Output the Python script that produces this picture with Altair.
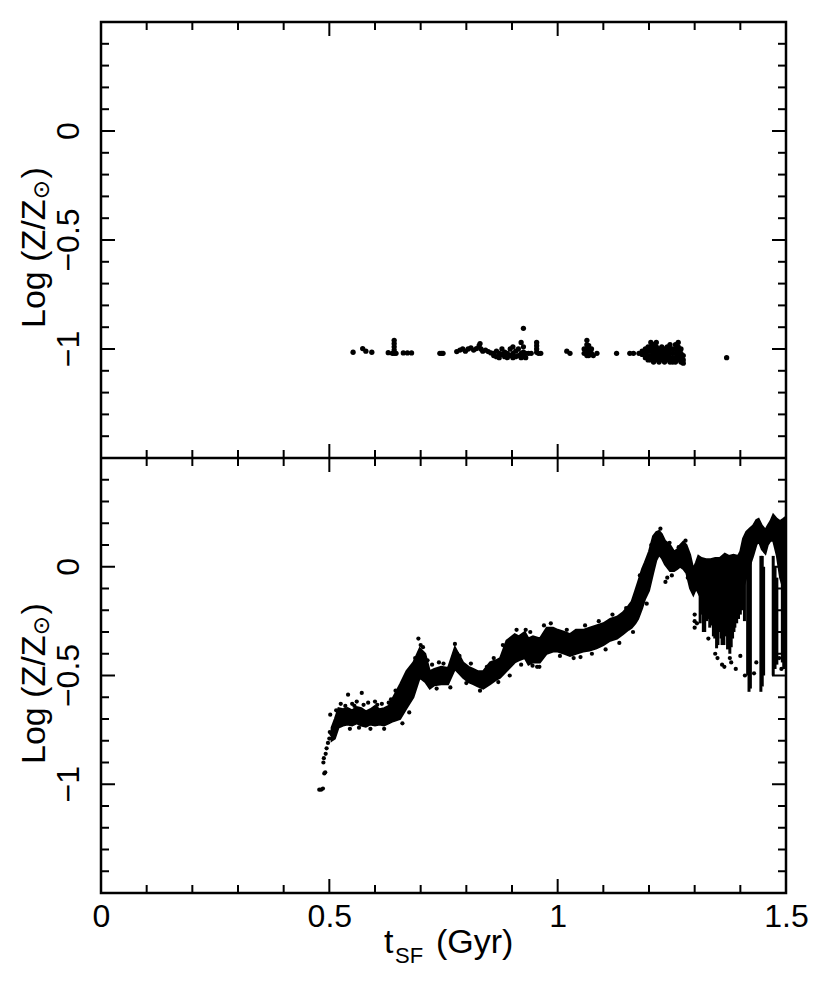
import altair as alt
import pandas as pd

FONT = "Liberation Sans"
W = 685
H_TOP, H_BOT = 436, 435
H = H_TOP + H_BOT
XDOM = [0.0, 1.5]
YDOM = [-1.5, 0.5]

# ---------------- data ----------------
# top panel: scattered star particles (t_SF [Gyr], log Z/Zsun)
top_points = [
    (0.552, -1.015), (0.573, -0.998), (0.580, -1.010), (0.593, -1.015), (0.629, -1.017),
    (0.638, -1.020), (0.642, -0.960), (0.642, -0.975), (0.642, -0.990), (0.642, -1.005),
    (0.642, -1.020), (0.646, -1.020), (0.662, -1.018), (0.671, -1.018), (0.680, -1.018),
    (0.742, -1.020), (0.746, -1.020), (0.749, -1.020),
    (0.779, -1.012), (0.786, -1.005), (0.792, -1.000), (0.798, -1.010), (0.804, -1.000),
    (0.810, -0.995), (0.816, -1.005), (0.822, -0.998), (0.828, -0.985), (0.830, -0.975),
    (0.832, -1.000), (0.836, -1.010), (0.842, -1.005), (0.848, -1.012), (0.854, -1.018),
    (0.860, -1.020), (0.860, -1.030), (0.866, -1.010), (0.866, -1.035), (0.872, -1.020),
    (0.872, -1.040), (0.878, -1.000), (0.878, -1.025), (0.884, -1.015), (0.884, -1.035),
    (0.890, -1.020), (0.890, -1.040), (0.896, -1.000), (0.896, -1.030), (0.902, -0.990),
    (0.902, -1.020), (0.902, -1.040), (0.908, -1.010), (0.908, -1.035), (0.914, -1.000),
    (0.914, -1.030), (0.920, -0.970), (0.920, -1.020), (0.920, -1.040), (0.925, -0.905),
    (0.925, -0.990), (0.925, -1.015), (0.925, -1.035), (0.930, -1.020), (0.930, -1.040),
    (0.936, -1.020), (0.942, -1.020),
    (0.954, -0.970), (0.954, -0.985), (0.954, -1.000), (0.954, -1.015), (0.958, -1.020),
    (0.963, -1.020), (1.020, -1.010), (1.027, -1.020),
    (1.058, -1.000), (1.058, -1.020), (1.064, -0.960), (1.064, -0.980), (1.064, -1.000),
    (1.064, -1.020), (1.064, -1.030), (1.068, -0.985), (1.068, -1.010), (1.068, -1.030),
    (1.074, -1.000), (1.074, -1.020), (1.078, -1.030), (1.086, -1.020),
    (1.129, -1.020), (1.158, -1.020), (1.166, -1.020), (1.178, -1.020), (1.185, -1.010),
    (1.185, -1.025),
    (1.192, -1.00), (1.192, -1.02), (1.192, -1.04),
    (1.198, -0.99), (1.198, -1.01), (1.198, -1.03), (1.198, -1.05),
    (1.204, -0.97), (1.204, -0.99), (1.204, -1.01), (1.204, -1.03), (1.204, -1.05),
    (1.210, -0.98), (1.210, -1.00), (1.210, -1.02), (1.210, -1.04), (1.210, -1.06),
    (1.216, -0.97), (1.216, -0.99), (1.216, -1.01), (1.216, -1.03), (1.216, -1.05),
    (1.222, -1.00), (1.222, -1.02), (1.222, -1.04), (1.222, -1.06),
    (1.228, -0.99), (1.228, -1.01), (1.228, -1.03), (1.228, -1.05),
    (1.234, -1.00), (1.234, -1.02), (1.234, -1.04), (1.234, -1.06),
    (1.240, -0.99), (1.240, -1.01), (1.240, -1.03), (1.240, -1.05),
    (1.246, -0.98), (1.246, -1.00), (1.246, -1.02), (1.246, -1.04), (1.246, -1.06),
    (1.252, -1.00), (1.252, -1.02), (1.252, -1.04), (1.252, -1.06),
    (1.258, -0.98), (1.258, -1.00), (1.258, -1.02), (1.258, -1.04), (1.258, -1.06),
    (1.264, -0.97), (1.264, -0.99), (1.264, -1.01), (1.264, -1.03), (1.264, -1.05),
    (1.270, -1.00), (1.270, -1.02), (1.270, -1.04), (1.270, -1.06),
    (1.275, -1.03), (1.275, -1.05), (1.275, -1.065),
    (1.370, -1.040),
]

# bottom panel: dense band of particles (lower / upper edge)
band_t = [0.505, 0.512, 0.520, 0.530, 0.540, 0.550, 0.560, 0.570, 0.580, 0.590, 0.600,
          0.610, 0.620, 0.630, 0.640, 0.655, 0.669, 0.684, 0.698, 0.710, 0.720, 0.730,
          0.745, 0.760, 0.775, 0.793, 0.805, 0.815, 0.825, 0.837, 0.852, 0.865, 0.874,
          0.888, 0.906, 0.915, 0.928, 0.936, 0.946, 0.961, 0.976, 0.990, 1.000, 1.015,
          1.027, 1.040, 1.056, 1.070, 1.085, 1.100, 1.115, 1.130, 1.143, 1.155, 1.162,
          1.170, 1.176, 1.185, 1.191, 1.200, 1.209, 1.216, 1.222, 1.228, 1.235, 1.246,
          1.255, 1.262, 1.268, 1.275, 1.282, 1.290, 1.297, 1.303, 1.308, 1.315, 1.325,
          1.335, 1.345, 1.355, 1.366, 1.375, 1.385, 1.395, 1.400, 1.406, 1.413, 1.420,
          1.428, 1.435, 1.440, 1.447, 1.455, 1.460, 1.466, 1.472, 1.480, 1.487, 1.494,
          1.500]
band_lo = [-0.80, -0.79, -0.74, -0.73, -0.725, -0.73, -0.72, -0.73, -0.735, -0.725, -0.73,
           -0.725, -0.73, -0.72, -0.71, -0.70, -0.65, -0.60, -0.51, -0.53, -0.56, -0.545,
           -0.54, -0.54, -0.47, -0.51, -0.53, -0.54, -0.55, -0.56, -0.54, -0.52, -0.51,
           -0.48, -0.44, -0.43, -0.42, -0.45, -0.44, -0.44, -0.40, -0.39, -0.39, -0.40,
           -0.41, -0.40, -0.39, -0.385, -0.375, -0.36, -0.34, -0.33, -0.31, -0.29, -0.28,
           -0.26, -0.24, -0.19, -0.15, -0.11, -0.03, 0.03, 0.055, 0.04, 0.01, -0.02,
           -0.02, -0.01, 0.00, -0.01, -0.03, -0.10, -0.13, -0.10, -0.12, -0.15, -0.17,
           -0.16, -0.18, -0.19, -0.17, -0.19, -0.16, -0.15, -0.13, -0.10, -0.05, 0.00,
           0.05, 0.10, 0.12, 0.08, 0.06, 0.10, 0.12, 0.12, 0.05, -0.05, -0.10,
           -0.12]
band_hi = [-0.74, -0.70, -0.65, -0.655, -0.65, -0.66, -0.645, -0.65, -0.665, -0.655, -0.64,
           -0.655, -0.65, -0.64, -0.60, -0.54, -0.48, -0.44, -0.375, -0.40, -0.48, -0.47,
           -0.46, -0.465, -0.37, -0.44, -0.46, -0.47, -0.48, -0.48, -0.44, -0.43, -0.42,
           -0.34, -0.31, -0.32, -0.30, -0.33, -0.32, -0.33, -0.28, -0.28, -0.29, -0.30,
           -0.31, -0.29, -0.29, -0.28, -0.27, -0.26, -0.24, -0.23, -0.21, -0.18, -0.16,
           -0.11, -0.07, -0.01, 0.02, 0.07, 0.14, 0.16, 0.165, 0.15, 0.12, 0.10,
           0.07, 0.08, 0.10, 0.115, 0.10, 0.055, -0.01, 0.02, 0.05, 0.04, 0.035,
           0.035, 0.04, 0.04, 0.06, 0.05, 0.055, 0.05, 0.07, 0.13, 0.16, 0.175,
           0.19, 0.215, 0.22, 0.19, 0.17, 0.19, 0.21, 0.24, 0.22, 0.21, 0.22,
           0.23]

# bottom panel: downward streaks at late times
spike_t = [1.312, 1.316, 1.319, 1.322, 1.326, 1.329, 1.333, 1.336, 1.341, 1.344, 1.348,
           1.351, 1.355, 1.358, 1.360, 1.364, 1.369, 1.372, 1.377, 1.380, 1.383, 1.386,
           1.388, 1.392, 1.396, 1.400, 1.404, 1.409, 1.416, 1.419, 1.422, 1.445, 1.448,
           1.451, 1.472, 1.476, 1.480, 1.492, 1.495, 1.498]
spike_top = [-0.10, -0.10, -0.10, -0.12, -0.12, -0.10, -0.10, -0.12, -0.12, -0.10, -0.10,
             -0.12, -0.12, -0.10, -0.10, -0.12, -0.12, -0.10, -0.10, -0.10, -0.10, -0.10,
             -0.10, -0.10, -0.08, -0.05, -0.05, -0.02, 0.05, 0.08, 0.10, 0.05, 0.05,
             0.00, 0.05, 0.00, -0.05, -0.05, -0.05, -0.05]
spike_bot = [-0.26, -0.22, -0.30, -0.30, -0.25, -0.24, -0.28, -0.27, -0.32, -0.33, -0.375,
             -0.36, -0.30, -0.33, -0.36, -0.36, -0.32, -0.38, -0.40, -0.37, -0.33, -0.30,
             -0.28, -0.26, -0.24, -0.22, -0.20, -0.25, -0.50, -0.575, -0.56, -0.575, -0.55,
             -0.50, -0.50, -0.47, -0.45, -0.44, -0.47, -0.40]

# bottom panel: isolated particles
bottom_points = [
    (0.478, -1.025), (0.482, -1.025), (0.486, -1.020), (0.489, -0.950), (0.491, -0.945),
    (0.487, -0.900), (0.488, -0.880), (0.492, -0.860), (0.494, -0.835), (0.497, -0.810),
    (0.500, -0.790), (0.501, -0.760), (0.502, -0.680), (0.505, -0.770), (0.508, -0.750),
    (0.541, -0.588), (0.571, -0.580), (0.550, -0.630), (0.560, -0.620), (0.585, -0.625),
    (0.600, -0.620), (0.615, -0.630), (0.630, -0.625), (0.695, -0.330), (0.700, -0.360),
    (0.740, -0.440), (0.775, -0.355), (0.780, -0.400), (0.930, -0.290), (0.970, -0.270),
    (0.945, -0.455), (0.960, -0.460), (1.050, -0.415), (1.236, -0.070), (1.240, -0.050),
    (1.300, -0.220), (1.300, -0.250), (1.300, -0.280), (1.305, -0.260), (1.330, -0.330),
    (1.345, -0.400), (1.350, -0.420), (1.360, -0.450), (1.365, -0.460), (1.377, -0.420),
    (1.380, -0.440), (1.390, -0.470), (1.400, -0.410), (1.410, -0.500), (1.430, -0.490),
    (1.435, -0.440), (1.485, -0.420), (1.490, -0.470),
    (0.515, -0.660), (0.525, -0.630), (0.535, -0.640), (0.545, -0.745), (0.555, -0.640),
    (0.565, -0.740), (0.575, -0.635), (0.590, -0.745), (0.605, -0.635), (0.620, -0.745),
    (0.635, -0.610), (0.645, -0.570), (0.660, -0.720), (0.675, -0.670), (0.688, -0.420),
    (0.705, -0.370), (0.715, -0.430), (0.725, -0.450), (0.735, -0.560), (0.750, -0.445),
    (0.765, -0.555), (0.785, -0.410), (0.800, -0.535), (0.810, -0.445), (0.830, -0.570),
    (0.845, -0.460), (0.860, -0.420), (0.870, -0.530), (0.880, -0.360), (0.895, -0.500),
    (0.910, -0.290), (0.920, -0.450), (0.940, -0.300), (0.955, -0.460), (0.985, -0.260),
    (1.005, -0.410), (1.020, -0.290), (1.035, -0.420), (1.060, -0.270), (1.075, -0.400),
    (1.090, -0.250), (1.105, -0.380), (1.120, -0.220), (1.135, -0.350), (1.150, -0.190),
    (1.165, -0.300), (1.180, -0.040), (1.195, -0.170), (1.205, 0.100), (1.225, 0.175),
    (1.245, 0.110), (1.250, -0.040), (1.265, 0.090), (1.280, 0.120), (1.285, -0.050),
]

x_major = [0.5, 1.0]
x_minor = [0.1, 0.2, 0.3, 0.4, 0.6, 0.7, 0.8, 0.9, 1.1, 1.2, 1.3, 1.4]
y_major = [-1.0, -0.5, 0.0]
y_minor = [-1.4, -1.3, -1.2, -1.1, -0.9, -0.8, -0.7, -0.6, -0.4, -0.3, -0.2, -0.1,
           0.1, 0.2, 0.3, 0.4]
x_labels = [0.0, 0.5, 1.0, 1.5]
y_labels = [-1.0, -0.5, 0.0]
y_label_text = ["\u22121", "\u22120.5", "0"]

# ---------------- chart ----------------
xs = alt.Scale(domain=XDOM, nice=False, zero=False)
ys_top = alt.Scale(domain=YDOM, nice=False, zero=False, range=[H_TOP, 0])
ys_bot = alt.Scale(domain=YDOM, nice=False, zero=False, range=[H, H_TOP])

xaxis = alt.Axis(values=x_labels, format="~g", ticks=False, domain=False, grid=False,
                 labelFont=FONT, labelFontSize=32, labelColor="black",
                 labelPadding=8, labelFlush=False)

MAJ, MIN = 14, 8
TFS = 34          # title font size
one = alt.Data(values=[{}])


def X(field):
    return alt.X(f"{field}:Q", scale=xs, axis=xaxis, title=None)


def Y(field, sc):
    return alt.Y(f"{field}:Q", scale=sc, axis=None, title=None)


def rule(df, **enc):
    return alt.Chart(df).mark_rule(color="black", strokeWidth=2).encode(**enc)


layers = []

# ---- data marks
tp = pd.DataFrame(top_points, columns=["t", "z"])
layers.append(alt.Chart(tp).mark_circle(size=28, color="black", opacity=1).encode(
    x=X("t"), y=Y("z", ys_top)))

band = pd.DataFrame({"t": band_t, "lo": band_lo, "hi": band_hi})
layers.append(alt.Chart(band).mark_area(color="black", stroke="black", strokeWidth=2,
                                        opacity=1).encode(
    x=X("t"), y=Y("lo", ys_bot), y2="hi:Q"))
sp = pd.DataFrame({"t": spike_t, "a": spike_top, "b": spike_bot})
layers.append(alt.Chart(sp).mark_rule(color="black", strokeWidth=3).encode(
    x=X("t"), y=Y("a", ys_bot), y2="b:Q"))
bp = pd.DataFrame(bottom_points, columns=["t", "z"])
layers.append(alt.Chart(bp).mark_circle(size=18, color="black", opacity=1).encode(
    x=X("t"), y=Y("z", ys_bot)))

# ---- frame middle line
layers.append(alt.Chart(one).mark_rule(color="black", strokeWidth=2.5).encode(
    x=alt.value(0), x2=alt.value(W), y=alt.value(H_TOP)))

# ---- x ticks (top edge, middle line both ways, bottom edge)
xmaj = pd.DataFrame({"v": x_major})
xmin = pd.DataFrame({"v": x_minor})
for df, L in ((xmaj, MAJ), (xmin, MIN)):
    layers.append(rule(df, x=X("v"), y=alt.value(0), y2=alt.value(L)))
    layers.append(rule(df, x=X("v"), y=alt.value(H_TOP - L), y2=alt.value(H_TOP + L)))
    layers.append(rule(df, x=X("v"), y=alt.value(H), y2=alt.value(H - L)))

# ---- y ticks, labels, titles for both panels
ymaj = pd.DataFrame({"v": y_major})
ymin = pd.DataFrame({"v": y_minor})
lab = pd.DataFrame({"v": y_labels, "s": y_label_text})
for sc, off in ((ys_top, 0), (ys_bot, H_TOP)):
    for df, L in ((ymaj, MAJ), (ymin, MIN)):
        layers.append(rule(df, y=Y("v", sc), x=alt.value(0), x2=alt.value(L)))
        layers.append(rule(df, y=Y("v", sc), x=alt.value(W), x2=alt.value(W - L)))
    layers.append(alt.Chart(lab).mark_text(font=FONT, fontSize=32, angle=270,
                                           align="center", baseline="alphabetic",
                                           color="black").encode(
        y=Y("v", sc), x=alt.value(-22), text="s:N"))

    ty = 306 + off
    wA = 3.779 * TFS
    layers.append(alt.Chart(one).mark_text(text="Log (Z/Z", font=FONT, fontSize=TFS,
                  angle=270, align="left", baseline="alphabetic", color="black").encode(
        x=alt.value(-56), y=alt.value(ty)))
    layers.append(alt.Chart(one).mark_text(text="\u2299", font="DejaVu Sans", fontSize=23,
                  angle=270, align="center", baseline="alphabetic", color="black").encode(
        x=alt.value(-52), y=alt.value(ty - wA - 10)))
    layers.append(alt.Chart(one).mark_text(text=")", font=FONT, fontSize=TFS,
                  angle=270, align="left", baseline="alphabetic", color="black").encode(
        x=alt.value(-56), y=alt.value(ty - wA - 21)))

# ---- x title  t_SF (Gyr)
layers.append(alt.Chart(one).mark_text(text="t", font=FONT, fontSize=TFS,
              align="left", baseline="alphabetic", color="black").encode(
    x=alt.value(283), y=alt.value(H + 60)))
layers.append(alt.Chart(one).mark_text(text="SF", font=FONT, fontSize=22,
              align="left", baseline="alphabetic", color="black").encode(
    x=alt.value(294), y=alt.value(H + 70)))
layers.append(alt.Chart(one).mark_text(text="(Gyr)", font=FONT, fontSize=TFS,
              align="left", baseline="alphabetic", color="black").encode(
    x=alt.value(335), y=alt.value(H + 60)))

# ---- invisible spacer fixing the plot area's offset from the page corner
layers.append(alt.Chart(one).mark_rule(opacity=0).encode(
    x=alt.value(-93), x2=alt.value(-92), y=alt.value(-14)))

chart = alt.layer(*layers).resolve_scale(y="independent").properties(
    width=W, height=H,
    padding={"left": 0, "top": 0, "right": 5, "bottom": 5},
    background="white",
).configure_view(stroke="black", strokeWidth=2.5)

chart.save("out.html", embed_options={"renderer": "svg", "actions": False})
